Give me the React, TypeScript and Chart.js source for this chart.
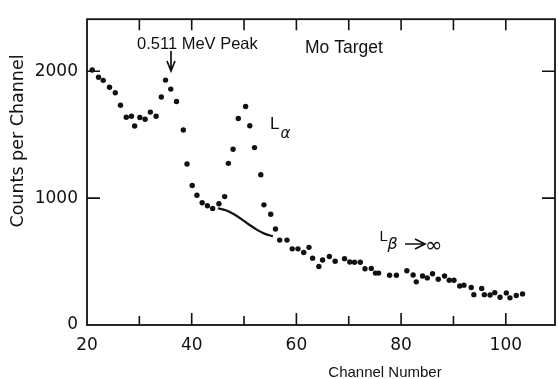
import React, { useEffect, useRef } from "react";
import { Chart, registerables } from "chart.js";

Chart.register(...registerables);

// Measured data points (channel, counts per channel)
const channels = [
  21.0, 22.2, 23.1, 24.3, 25.4, 26.4, 27.5, 28.5, 29.1, 30.1,
  31.1, 32.1, 33.2, 34.2, 35.0, 36.0, 37.1, 38.4, 39.1, 40.1,
  41.0, 42.0, 43.0, 44.0, 45.2, 46.3, 47.0, 47.9, 48.9, 50.3,
  51.1, 52.0, 53.2, 53.8, 55.1, 56.0, 56.8, 58.2, 59.2, 60.3,
  61.4, 62.4, 63.1, 64.3, 65.0, 66.3, 67.4, 69.2, 70.2, 71.1,
  72.2, 73.1, 74.3, 75.1, 75.7, 77.8, 79.1, 81.1, 82.3, 82.9,
  84.1, 85.0, 86.0, 87.1, 88.3, 89.2, 90.1, 91.2, 92.0, 93.4,
  93.9, 95.4, 95.9, 97.0, 97.9, 98.9, 100.1, 100.8, 102.0, 103.2,
];
const counts = [
  2010, 1953, 1928, 1874, 1830, 1732, 1637, 1645, 1568, 1635,
  1622, 1678, 1645, 1797, 1930, 1859, 1761, 1537, 1269, 1099,
  1022, 963, 940, 919, 955, 1012, 1274, 1385, 1627, 1722,
  1570, 1398, 1184, 947, 873, 757, 669, 669, 600, 600,
  571, 612, 527, 461, 512, 540, 502, 523, 497, 494,
  494, 443, 446, 409, 409, 392, 392, 427, 394, 340,
  386, 371, 404, 360, 386, 353, 353, 307, 314, 296,
  239, 288, 239, 237, 255, 219, 253, 214, 232, 245,
];

// Background curve under the L-alpha peak
const curveChannels = [45.0, 46.5, 48.0, 49.5, 51.0, 52.5, 54.0, 55.5];
const curveCounts = [920, 905, 875, 835, 790, 750, 718, 700];

const xMajorTicks = [20, 40, 60, 80, 100];
const xMinorTicks = [30, 50, 70, 90];
const xTopTicks = [30, 40, 50, 60, 70, 80, 90, 100];
const yTicks = [0, 1000, 2000];

const framePlugin = {
  id: "framePlugin",
  beforeDatasetsDraw(chart: any) {
    const { ctx, chartArea: a, scales } = chart;
    const xs = scales.x;
    const ys = scales.y;
    ctx.save();
    ctx.strokeStyle = "#111";
    ctx.lineWidth = 1.8;
    ctx.strokeRect(a.left, a.top, a.right - a.left, a.bottom - a.top);
    ctx.lineWidth = 1.6;
    ctx.beginPath();
    for (const v of xMajorTicks) {
      if (v === 20) continue;
      const px = xs.getPixelForValue(v);
      ctx.moveTo(px, a.bottom);
      ctx.lineTo(px, a.bottom - 12);
    }
    for (const v of xMinorTicks) {
      const px = xs.getPixelForValue(v);
      ctx.moveTo(px, a.bottom);
      ctx.lineTo(px, a.bottom - 9);
    }
    for (const v of xTopTicks) {
      const px = xs.getPixelForValue(v);
      ctx.moveTo(px, a.top);
      ctx.lineTo(px, a.top + 11);
    }
    for (const v of yTicks) {
      if (v === 0) continue;
      const py = ys.getPixelForValue(v);
      ctx.moveTo(a.left, py);
      ctx.lineTo(a.left + 13, py);
      ctx.moveTo(a.right, py);
      ctx.lineTo(a.right - 13, py);
    }
    ctx.stroke();
    ctx.restore();
  },
  afterDraw(chart: any) {
    const { ctx } = chart;
    ctx.save();
    ctx.fillStyle = "#111";
    ctx.strokeStyle = "#111";
    ctx.textBaseline = "alphabetic";

    // Axis titles
    ctx.font = "15px 'Liberation Sans'";
    ctx.textAlign = "center";
    ctx.fillText("Channel Number", 385, 377);

    ctx.save();
    ctx.translate(23, 141);
    ctx.rotate(-Math.PI / 2);
    ctx.font = "17.5px 'DejaVu Sans'";
    ctx.textAlign = "center";
    ctx.fillText("Counts per Channel", 0, 0);
    ctx.restore();

    // Annotations
    ctx.textAlign = "left";
    ctx.font = "16.5px 'Liberation Sans'";
    ctx.fillText("0.511 MeV Peak", 137, 48.5);
    ctx.font = "17.5px 'Liberation Sans'";
    ctx.fillText("Mo Target", 305, 53);

    // Arrow to 0.511 MeV peak
    ctx.lineWidth = 1.7;
    ctx.beginPath();
    ctx.moveTo(171, 51);
    ctx.lineTo(171, 70);
    ctx.moveTo(167, 61);
    ctx.lineTo(171, 71);
    ctx.lineTo(175, 61);
    ctx.stroke();

    // L alpha
    ctx.font = "17px 'Liberation Sans'";
    ctx.fillText("L", 270, 128.5);
    ctx.font = "italic 15px 'DejaVu Sans'";
    ctx.fillText("α", 280.5, 137.5);

    // L beta -> infinity
    ctx.font = "15px 'Liberation Sans'";
    ctx.fillText("L", 379.5, 240.5);
    ctx.font = "italic 16px 'DejaVu Sans'";
    ctx.fillText("β", 387.5, 248.5);
    ctx.lineWidth = 1.7;
    ctx.beginPath();
    ctx.moveTo(405, 244);
    ctx.lineTo(424, 244);
    ctx.moveTo(415, 239);
    ctx.lineTo(425, 244);
    ctx.lineTo(415, 249);
    ctx.stroke();
    ctx.font = "21px 'DejaVu Sans'";
    ctx.fillText("∞", 425, 251.5);

    ctx.restore();
  },
};

export default function App() {
  const canvasRef = useRef<HTMLCanvasElement | null>(null);

  useEffect(() => {
    const canvas = canvasRef.current;
    if (!canvas) return;
    const points = channels.map((c, i) => ({ x: c, y: counts[i] }));
    const curve = curveChannels.map((c, i) => ({ x: c, y: curveCounts[i] }));
    const chart = new Chart(canvas, {
      type: "scatter",
      data: {
        datasets: [
          {
            data: points,
            pointRadius: 2.7,
            pointBackgroundColor: "#111",
            pointBorderWidth: 0,
            showLine: false,
          },
          {
            data: curve,
            showLine: true,
            borderColor: "#111",
            borderWidth: 2.2,
            pointRadius: 0,
            tension: 0.4,
            cubicInterpolationMode: "monotone",
          },
        ],
      },
      options: {
        responsive: false,
        animation: false,
        layout: { padding: { top: 13, right: 4, left: 0, bottom: 0 } },
        plugins: { legend: { display: false }, tooltip: { enabled: false } },
        scales: {
          x: {
            type: "linear",
            min: 20,
            max: 109.4,
            grid: { display: false, drawTicks: false },
            border: { display: false },
            ticks: {
              padding: 10,
              color: "#111",
              font: { family: "'DejaVu Sans'", size: 17 },
              callback: (v: any) => String(v),
            },
            afterBuildTicks: (s: any) => {
              s.ticks = xMajorTicks.map((v) => ({ value: v }));
            },
            afterFit: (s: any) => {
              s.height = 54;
            },
          },
          y: {
            type: "linear",
            min: 0,
            max: 2410,
            grid: { display: false, drawTicks: false },
            border: { display: false },
            ticks: {
              padding: 9,
              color: "#111",
              font: { family: "'DejaVu Sans'", size: 17 },
              callback: (v: any) => String(v),
            },
            afterBuildTicks: (s: any) => {
              s.ticks = yTicks.map((v) => ({ value: v }));
            },
            afterFit: (s: any) => {
              s.width = 87;
            },
          },
        },
      },
      plugins: [framePlugin],
    });
    return () => chart.destroy();
  }, []);

  return (
    <div style={{ position: "fixed", left: 0, top: 0, width: 559, height: 379, background: "#fff" }}>
      <canvas ref={canvasRef} width={559} height={379} style={{ width: 559, height: 379 }} />
    </div>
  );
}
